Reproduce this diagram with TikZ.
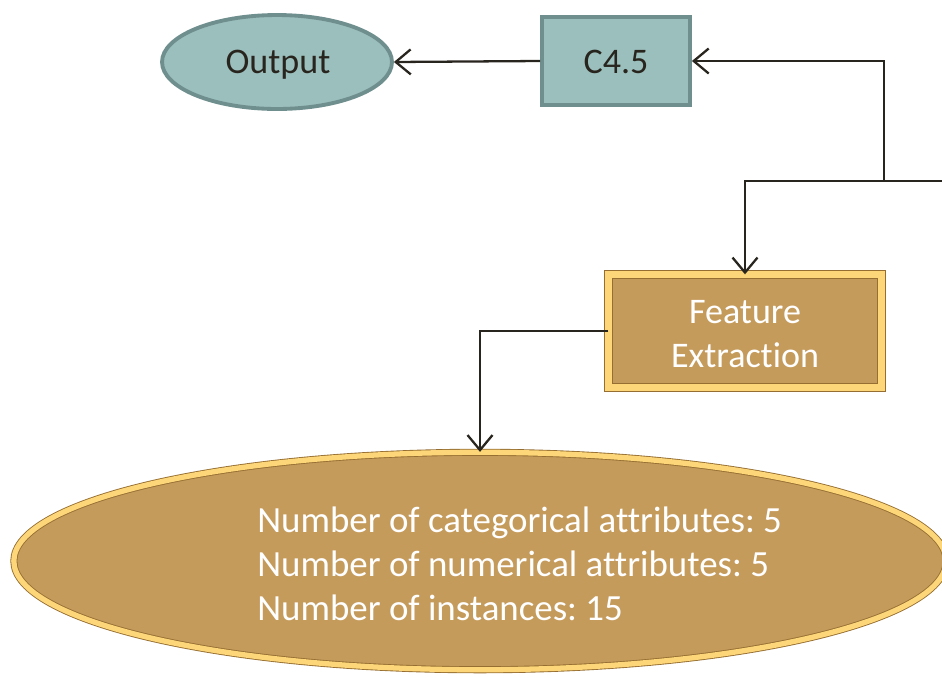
\documentclass[tikz,border=0pt]{standalone}
\usepackage{fontspec}
\setmainfont{Carlito}[RawFeature={-liga;-dlig;-calt}]
\frenchspacing
\usetikzlibrary{arrows.meta, shapes.geometric}

\begin{document}
\begin{tikzpicture}[x=0.02cm, y=-0.02cm]
    % Define colours
    \definecolor{tealfill}{RGB}{155,191,189}
    \definecolor{tealedge}{RGB}{111,143,142}
    \definecolor{tanfill}{RGB}{197,155,92}
    \definecolor{bevellight}{RGB}{252,214,120}
    \definecolor{beveldark}{RGB}{150,110,50}
    \definecolor{ink}{RGB}{40,36,30}
    % Define styles
    \tikzset{
        tealbox/.style={draw=tealedge, fill=tealfill, line width=2.2pt, inner sep=0pt},
        tanbox/.style={draw=beveldark, double=bevellight, double distance=4pt, line width=0.5pt,
            fill=tanfill, inner sep=0pt},
        conn/.style={draw=ink, line width=1.3pt, -{Straight Barb[length=0.3cm, width=0.5cm]}}
    }
    \useasboundingbox (0,0) rectangle (942,677);
    \fontsize{20.5}{25}\selectfont

    % 1. Top row
    \node[tealbox, ellipse, minimum width=4.6cm, minimum height=1.88cm] (out) at (277,62) {};
    \node[text=ink, inner sep=0pt, anchor=base] (outtext) at (278,73) {Output};
    \node[tealbox, rectangle, minimum width=2.96cm, minimum height=1.76cm] (c45) at (616,61) {};
    \node[text=ink, inner sep=0pt, anchor=base] (c45text) at (616,73) {C4.5};

    % 2. Feature extraction box
    \node[tanbox, rectangle, minimum width=5.45cm, minimum height=2.25cm]
        (fe) at (745,331) {};
    \node[text=white, align=center, inner sep=0pt] (fetext) at (745,334) {Feature\\Extraction};

    % 3. Dataset ellipse
    \node[tanbox, ellipse, double distance=3pt, minimum width=18.65cm, minimum height=4.35cm]
        (stats) at (480,561) {};
    \node[text=white, align=left, anchor=west, inner sep=0pt, font=\fontsize{21}{25.2}\selectfont]
        (statstext) at (257,564)
        {Number of categorical attributes: 5\\Number of numerical attributes: 5\\Number of instances: 15};

    % 4. Connectors
    \coordinate (in) at (942,181);
    \coordinate (split) at (884,181);
    \draw[conn] (c45.west) -- (out.east);
    \draw[conn] (in) -- (split) |- (c45.east);
    \draw[conn] (split) -| (fe.north);
    \draw[conn] (fe.west) -| (stats.north);
\end{tikzpicture}
\end{document}
